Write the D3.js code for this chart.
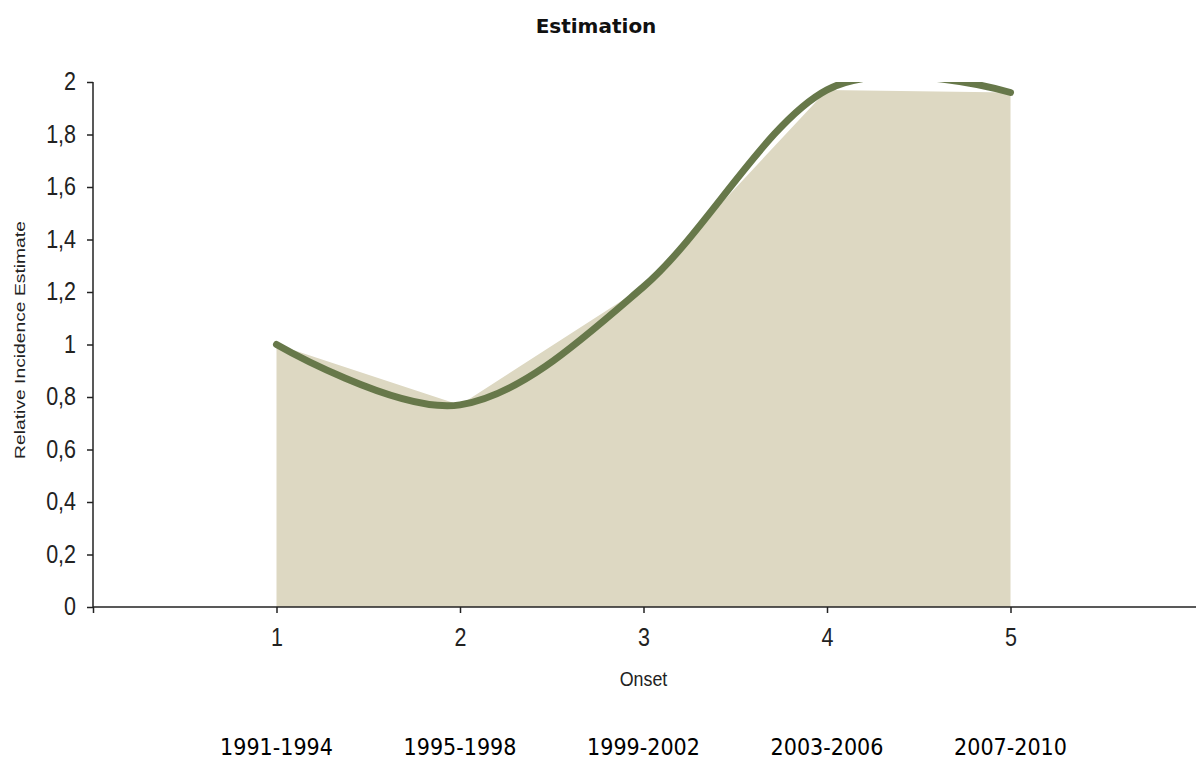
<!DOCTYPE html>
<html><head><meta charset="utf-8">
<script src="https://cdn.jsdelivr.net/npm/d3@7"></script>
<style>body{margin:0;background:#fff;} svg{display:block;}</style>
</head><body>
<svg id="c" width="1196" height="780"></svg>
<script>
const onset = [1, 2, 3, 4, 5];
const estimate = [1.0, 0.77, 1.22, 1.97, 1.96];
const periods = ["1991-1994", "1995-1998", "1999-2002", "2003-2006", "2007-2010"];
const yTicks = [0, 0.2, 0.4, 0.6, 0.8, 1, 1.2, 1.4, 1.6, 1.8, 2];
const xTicks = [0, 1, 2, 3, 4, 5];

const svg = d3.select("#c");
const x = d3.scaleLinear().domain([0, 6]).range([93, 1194]);
const y = d3.scaleLinear().domain([0, 2]).range([607, 82]);
const data = onset.map((o, i) => ({x: o, y: estimate[i]}));
const sans = "Liberation Sans, Arial, sans-serif";

svg.append("defs").append("clipPath").attr("id", "plot")
  .append("rect").attr("x", 93).attr("y", 82).attr("width", 1103).attr("height", 525);

const g = svg.append("g").attr("clip-path", "url(#plot)");
g.append("path").datum(data)
  .attr("fill", "#ddd8c2")
  .attr("d", d3.area().x(d => x(d.x)).y0(y(0)).y1(d => y(d.y)));
g.append("path").datum(data)
  .attr("fill", "none").attr("stroke", "#67784a").attr("stroke-width", 7)
  .attr("stroke-linecap", "round").attr("stroke-linejoin", "round")
  .attr("d", d3.line().x(d => x(d.x)).y(d => y(d.y)).curve(d3.curveCardinal.tension(0)));

const fmt = v => String(+v.toFixed(1)).replace(".", ",");
const yAx = svg.append("g").attr("transform", "translate(93,0)")
  .call(d3.axisLeft(y).tickValues(yTicks).tickFormat(fmt).tickSize(6).tickPadding(0));
yAx.select(".domain").attr("d", "M0,82V607").attr("stroke", "#222").attr("stroke-width", 1.5);
yAx.selectAll(".tick line").attr("stroke", "#222").attr("stroke-width", 1.5);
yAx.selectAll("text").attr("font-family", sans).attr("font-size", 25).attr("fill", "#222")
  .attr("x", 0).attr("dy", "0.3em")
  .attr("transform", "translate(-17,0) scale(0.86,1)");

const xAx = svg.append("g").attr("transform", "translate(0,607)")
  .call(d3.axisBottom(x).tickValues(xTicks).tickFormat(d => d === 0 ? "" : d).tickSize(6).tickPadding(0));
xAx.select(".domain").attr("d", "M93,0H1196").attr("stroke", "#222").attr("stroke-width", 1.5);
xAx.selectAll(".tick line").attr("stroke", "#222").attr("stroke-width", 1.5);
xAx.selectAll("text").attr("font-family", sans).attr("font-size", 25).attr("fill", "#222")
  .attr("y", 0).attr("dy", 0)
  .attr("transform", "translate(0,39) scale(0.86,1)");

svg.append("text").attr("x", 596).attr("y", 33).attr("text-anchor", "middle")
  .attr("font-family", "DejaVu Sans, Verdana, sans-serif").attr("font-weight", "bold").attr("font-size", 20)
  .attr("fill", "#111").text("Estimation");

svg.append("text").attr("transform", `translate(${x(3)},686) scale(0.85,1)`).attr("text-anchor", "middle")
  .attr("font-family", sans).attr("font-size", 21).attr("fill", "#222").text("Onset");

svg.append("text").attr("transform", "translate(25,340) rotate(-90) scale(1.33,1)").attr("text-anchor", "middle")
  .attr("font-family", sans).attr("font-size", 14.5).attr("fill", "#222")
  .text("Relative Incidence Estimate");

svg.append("g").selectAll("text").data(periods).join("text")
  .attr("x", (d, i) => x(onset[i])).attr("y", 755).attr("text-anchor", "middle")
  .attr("font-family", "DejaVu Sans Condensed, sans-serif").attr("font-size", 23)
  .attr("fill", "#000").text(d => d);
</script>
</body></html>
